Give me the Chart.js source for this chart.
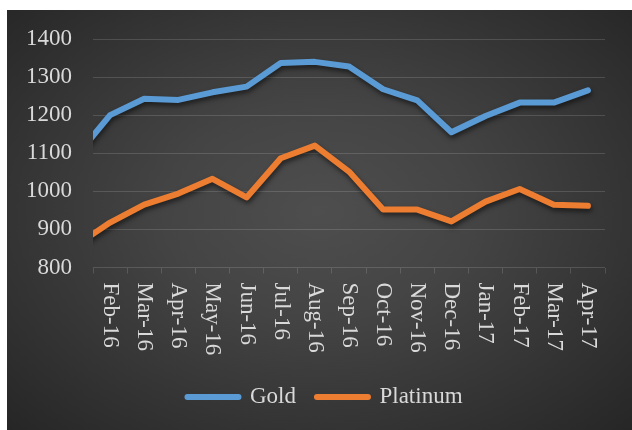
<!DOCTYPE html>
<html>
<head>
<meta charset="utf-8">
<script src="https://cdn.jsdelivr.net/npm/chart.js@4"></script>
<style>
  body { margin: 0; background: #fff; }
  #wrap {
    position: absolute; left: 7px; top: 10px; width: 625px; height: 420px;
    background: radial-gradient(ellipse farthest-corner at 50% 48%, #4e4e4e 0%, #444 35%, #262626 100%);
  }
</style>
</head>
<body>
<div id="wrap"><canvas id="chart" width="625" height="420"></canvas></div>
<script>
// Jan-16 sits just left of the plot, so the lines run in from the edge
const months = ["Jan-16", "Feb-16", "Mar-16", "Apr-16", "May-16", "Jun-16", "Jul-16", "Aug-16",
    "Sep-16", "Oct-16", "Nov-16", "Dec-16", "Jan-17", "Feb-17", "Mar-17", "Apr-17"];
const gold = [1092, 1200, 1243, 1240, 1260, 1275, 1337, 1340, 1328, 1268, 1239, 1155, 1198, 1233, 1233, 1265];
const platinum = [858, 918, 965, 994, 1033, 984, 1087, 1120, 1052, 952, 952, 921, 973, 1006, 965, 962];
const yMin = 800;
const yMax = 1400;
const yStep = 100;

const textColor = "#d9d9d9";
const gridColor = "rgba(255,255,255,0.14)";
const font = { family: "'Liberation Serif', 'Times New Roman', serif", size: 23 };

// x labels read top-to-bottom, which Chart.js can't do on its own
const xLabels = {
    id: "xLabels",
    afterDraw(chart) {
        const scale = chart.scales.x;
        const ctx = chart.ctx;
        ctx.save();
        ctx.font = "23px 'Liberation Serif'";
        ctx.fillStyle = textColor;
        ctx.textAlign = "left";
        ctx.textBaseline = "middle";
        scale.ticks.forEach((t, i) => {
            ctx.save();
            ctx.translate(scale.getPixelForTick(i), chart.chartArea.bottom + 15);
            ctx.rotate(Math.PI / 2);
            ctx.fillText(scale.getLabelForValue(t.value), 0, 0);
            ctx.restore();
        });
        ctx.restore();
    }
};

const lineShadow = {
    id: "lineShadow",
    beforeDatasetDraw(chart) {
        const ctx = chart.ctx;
        ctx.save();
        ctx.shadowColor = "rgba(0,0,0,0.55)";
        ctx.shadowBlur = 5;
        ctx.shadowOffsetX = 1;
        ctx.shadowOffsetY = 3;
    },
    afterDatasetDraw(chart) {
        chart.ctx.restore();
    }
};

function lineSet(label, data, color) {
    return {
        label, data,
        borderColor: color,
        backgroundColor: color,
        borderWidth: 6,
        borderCapStyle: "round",
        borderJoinStyle: "round",
        pointRadius: 0,
        tension: 0,
        yAxisID: "y",
        clip: { left: 0, top: false, right: false, bottom: false }
    };
}

new Chart(document.getElementById("chart"), {
    type: "line",
    data: {
        labels: months,
        datasets: [
            lineSet("Gold", gold, "#5b9bd5"),
            lineSet("Platinum", platinum, "#ed7d31")
        ]
    },
    options: {
        responsive: false,
        animation: false,
        layout: { padding: { left: 19, right: 8, top: 29, bottom: 11.5 } },
        plugins: {
            tooltip: { enabled: false },
            legend: {
                position: "bottom",
                labels: {
                    color: textColor,
                    font: font,
                    boxWidth: 51,
                    boxHeight: 0,
                    padding: 21
                }
            }
        },
        scales: {
            x: {
                min: "Feb-16",
                offset: true,
                ticks: { display: false },
                grid: { drawOnChartArea: false, color: gridColor, tickLength: 6, offset: true },
                border: { display: false },
                afterFit(s) { s.height = 97; }
            },
            y: {
                min: yMin,
                max: yMax,
                ticks: {
                    stepSize: yStep, color: textColor, font: font, padding: 3,
                    callback: v => String(v)
                },
                grid: { color: gridColor, tickLength: 18, tickColor: "transparent" },
                border: { display: false },
                afterFit(s) { s.width = 67; }
            },
            // empty right-hand strip so the plot and the legend sit where they do in the original
            yRight: {
                position: "right",
                display: true,
                ticks: { display: false },
                grid: { display: false },
                border: { display: false },
                afterFit(s) { s.width = 19; }
            }
        }
    },
    plugins: [xLabels, lineShadow]
});
</script>
</body>
</html>
